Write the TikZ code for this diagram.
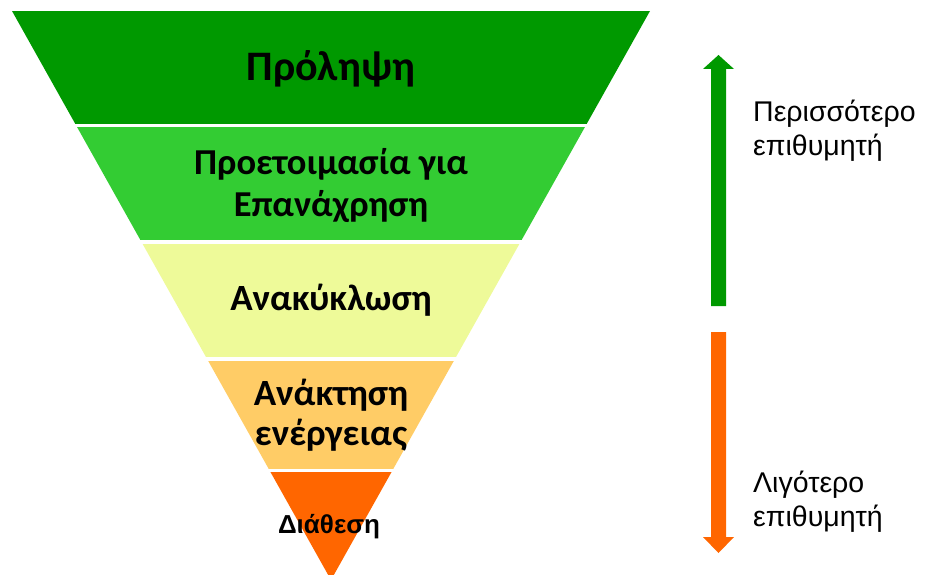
\documentclass[tikz,border=0pt]{standalone}
\usepackage{fontspec}
\setmainfont{Liberation Sans}
\newfontfamily\calfont{Carlito}
\definecolor{cA}{HTML}{009900}
\definecolor{cB}{HTML}{33CC33}
\definecolor{cC}{HTML}{EEFA99}
\definecolor{cD}{HTML}{FFCC66}
\definecolor{cE}{HTML}{FF6600}
\tikzset{
  layerlabel/.style={align=center, inner sep=0pt, font=\calfont\bfseries},
  sidelabel/.style={align=left, anchor=west, inner sep=0pt, font=\fontsize{28.5}{34}\selectfont},
}
\begin{document}
\begin{tikzpicture}[x=1pt,y=-1pt]
\useasboundingbox (0,0) rectangle (926,575);
\begin{scope}
  \clip (12,11) -- (650,11) -- (331,580) -- cycle;
  \fill[cA] (0,11) rectangle (700,124);
  \fill[cB] (0,127) rectangle (700,240);
  \fill[cC] (0,244) rectangle (700,357);
  \fill[cD] (0,361) rectangle (700,469);
  \fill[cE] (0,472) rectangle (700,580);
\end{scope}
\node[layerlabel, font=\calfont\bfseries\fontsize{42}{46}\selectfont] (l1) at (331,69) {Πρόληψη};
\node[layerlabel, font=\calfont\bfseries\fontsize{36.5}{42}\selectfont] (l2) at (331,186) {Προετοιμασία για\\Επανάχρηση};
\node[layerlabel, font=\calfont\bfseries\fontsize{37}{40}\selectfont] (l3) at (331,300) {Ανακύκλωση};
\node[layerlabel, font=\calfont\bfseries\fontsize{37}{40}\selectfont] (l4) at (331,415) {Ανάκτηση\\ενέργειας};
\node[layerlabel, font=\bfseries\fontsize{26}{30}\selectfont] (l5) at (329,527) {Διάθεση};
% arrows
\fill[cA] (711,306) -- (711,69) -- (703,69) -- (718.5,55) -- (734,69) -- (726,69) -- (726,306) -- cycle;
\fill[cE] (711,332) -- (711,537) -- (703,537) -- (718.5,553) -- (734,537) -- (726,537) -- (726,332) -- cycle;
\node[sidelabel] (t1) at (753,131) {Περισσότερο\\επιθυμητή};
\node[sidelabel] (t2) at (753,502) {Λιγότερο\\επιθυμητή};
\end{tikzpicture}
\end{document}
